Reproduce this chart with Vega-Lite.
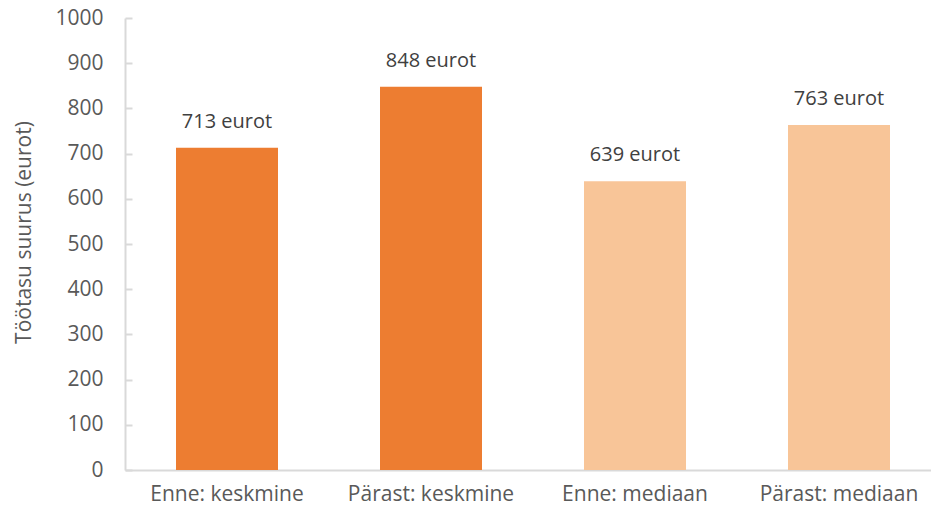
{
  "$schema": "https://vega.github.io/schema/vega-lite/v6.json",
  "autosize": {"type": "none"},
  "width": 816,
  "height": 452,
  "padding": {"left": 125, "top": 18, "right": 0, "bottom": 47},
  "background": "white",
  "config": {"view": {"stroke": null}, "font": "Open Sans"},
  "data": {"values": [
    {"cat": "Enne: keskmine", "value": 713, "label": "713 eurot", "grp": "a"},
    {"cat": "Pärast: keskmine", "value": 848, "label": "848 eurot", "grp": "a"},
    {"cat": "Enne: mediaan", "value": 639, "label": "639 eurot", "grp": "b"},
    {"cat": "Pärast: mediaan", "value": 763, "label": "763 eurot", "grp": "b"}
  ]},
  "encoding": {
    "x": {"field": "cat", "type": "nominal", "sort": null,
      "scale": {"paddingInner": 0.5, "paddingOuter": 0.25},
      "axis": {"title": null, "labelAngle": 0, "labelFontSize": 21, "labelColor": "#595959", "ticks": false, "domainColor": "#D9D9D9", "domainWidth": 2, "labelPadding": 13, "labelFont": "Open Sans", "labelLimit": 300}},
    "y": {"field": "value", "type": "quantitative",
      "scale": {"domain": [0, 1000]},
      "axis": {"title": "Töötasu suurus (eurot)", "titleFontSize": 21, "titleFontWeight": "normal", "titleColor": "#595959", "titlePadding": 20, "titleY": 214, "titleAlign": "center", "values": [0,100,200,300,400,500,600,700,800,900,1000], "format": "d", "grid": false, "labelFontSize": 21, "labelColor": "#595959", "domainColor": "#D9D9D9", "domainWidth": 2, "tickColor": "#D9D9D9", "tickWidth": 2, "tickSize": -7, "labelPadding": 29, "labelFont": "Open Sans", "titleFont": "Open Sans"}}
  },
  "layer": [
    {"mark": {"type": "bar"},
     "encoding": {"color": {"field": "grp", "type": "nominal", "scale": {"domain": ["a", "b"], "range": ["#ED7D31", "#F8C598"]}, "legend": null}}},
    {"mark": {"type": "text", "dy": -26, "fontSize": 20, "color": "#404040", "font": "Open Sans"},
     "encoding": {"text": {"field": "label"}}}
  ]
}
